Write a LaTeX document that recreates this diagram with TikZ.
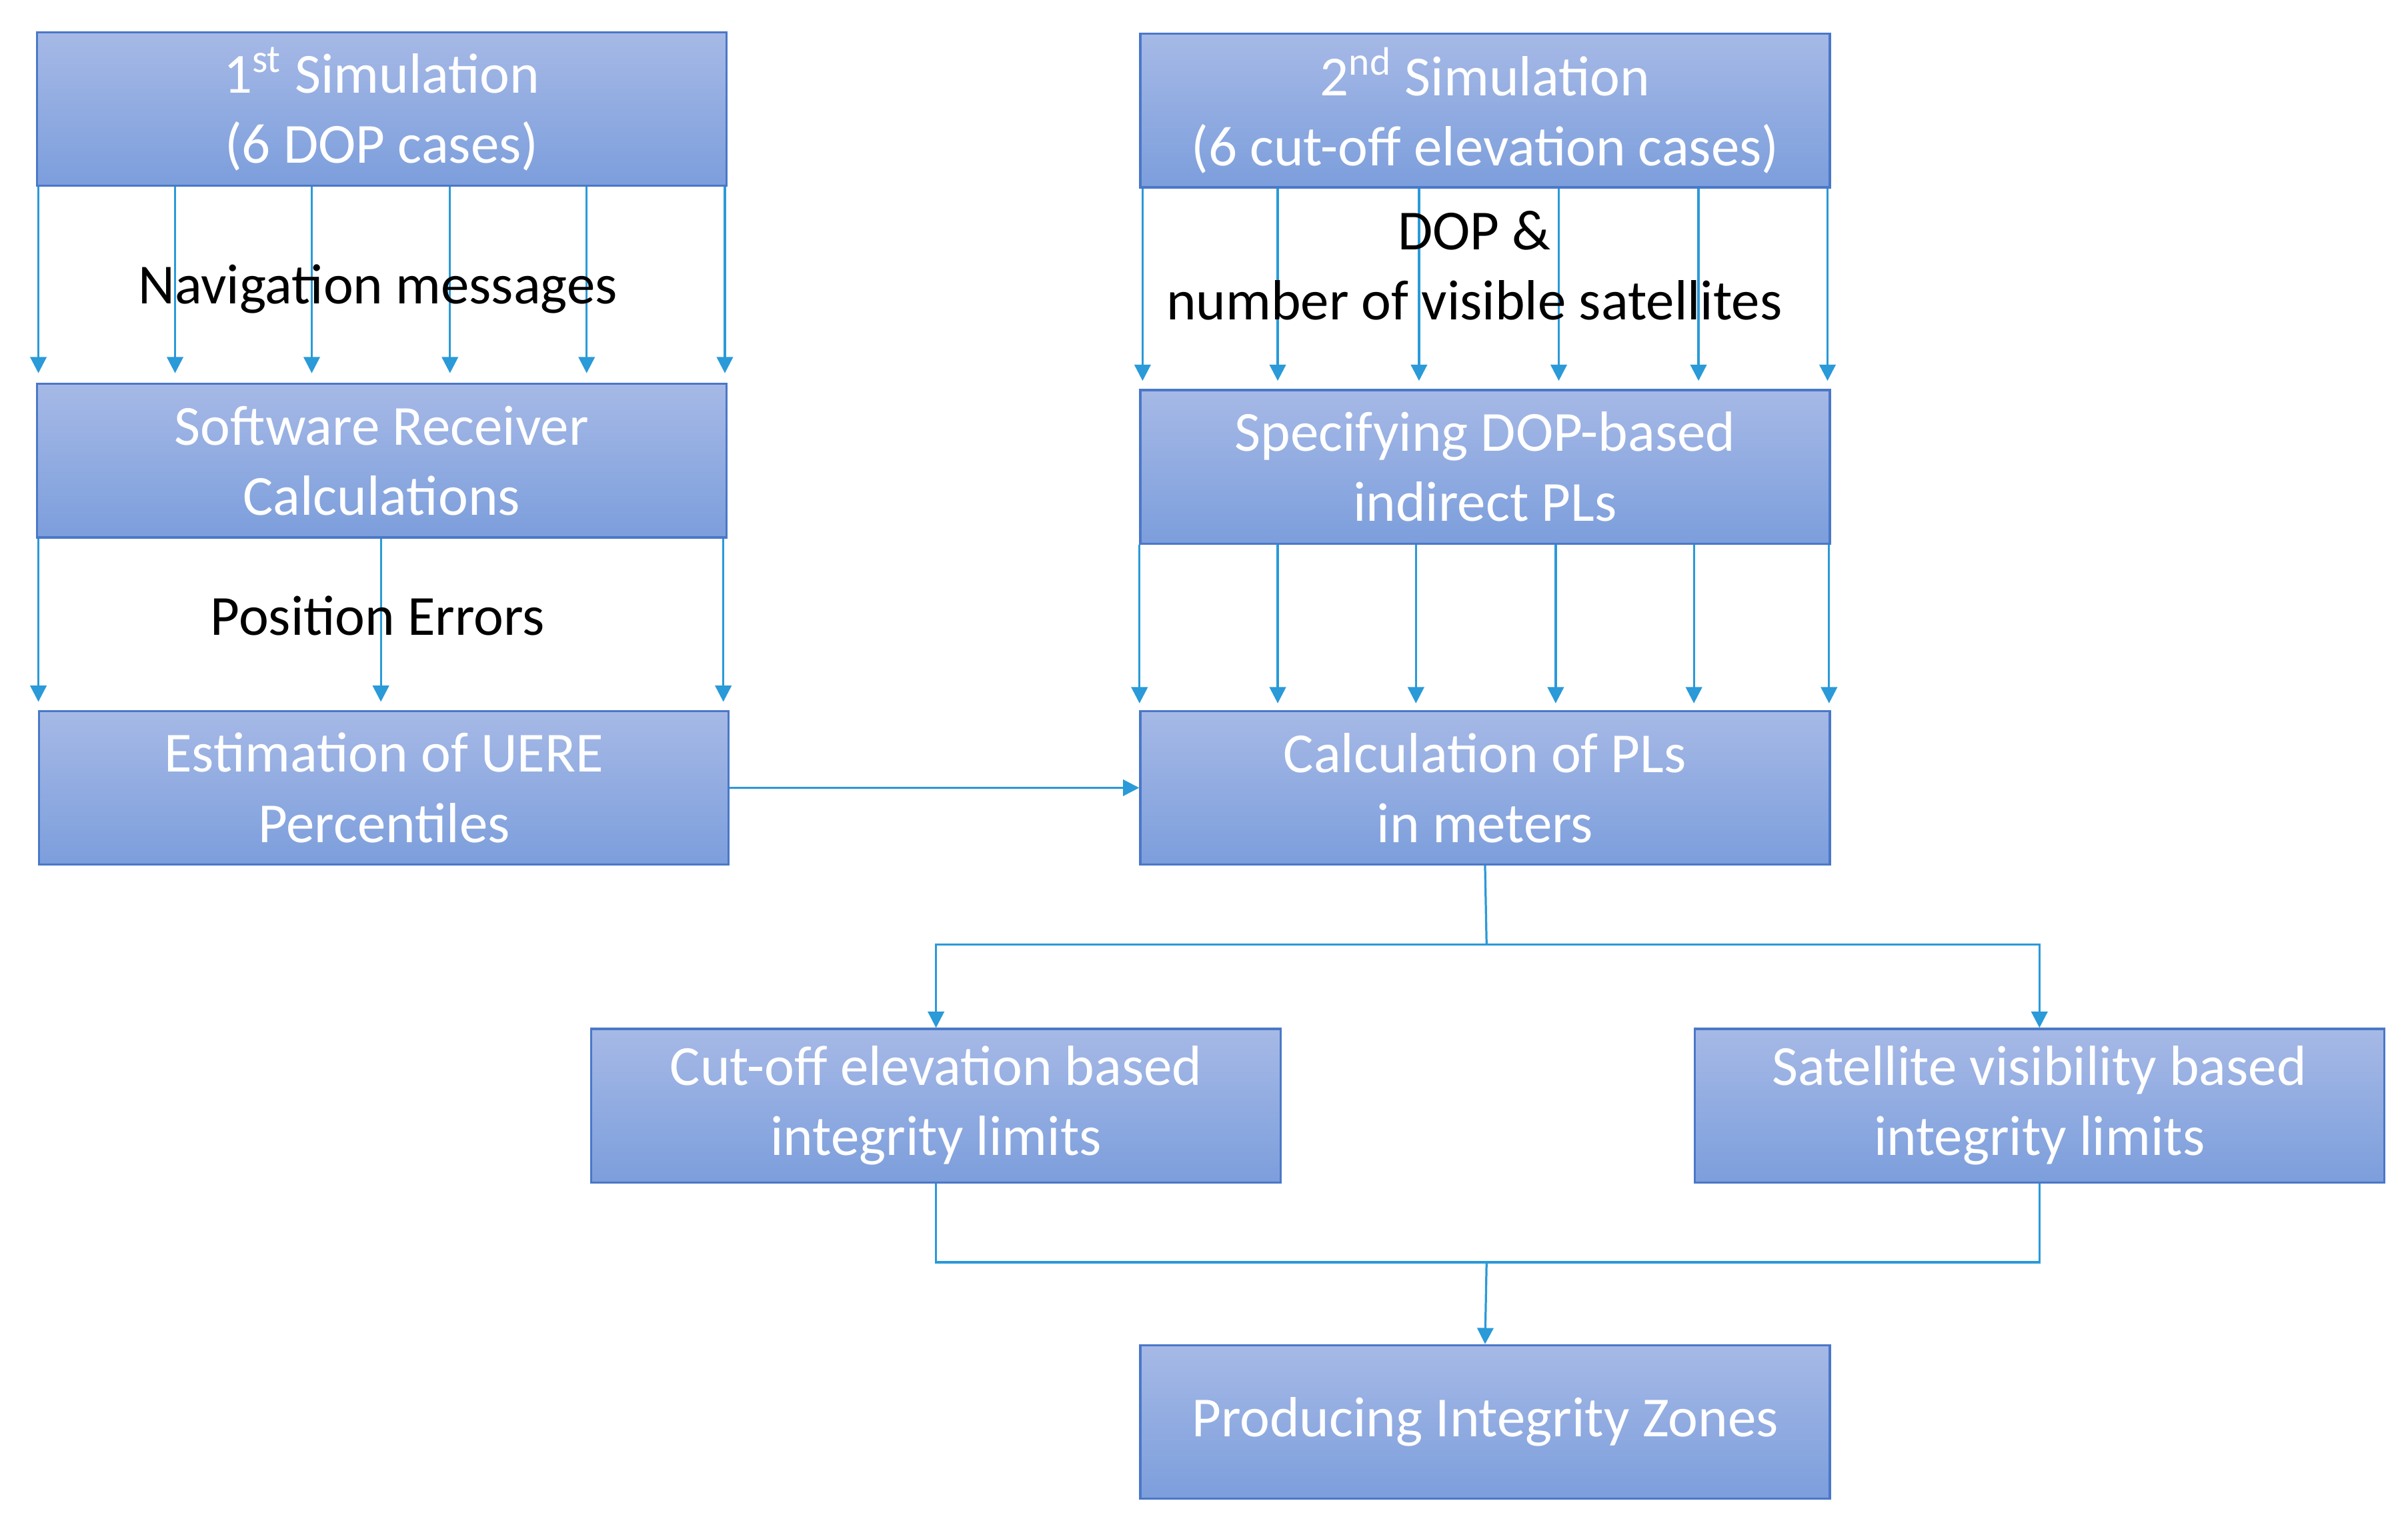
\documentclass[tikz,border=0pt]{standalone}
\usepackage{fontspec}
\setmainfont{Carlito}
\usetikzlibrary{arrows.meta,calc}
\definecolor{bt}{HTML}{A6B9E6}
\definecolor{bb}{HTML}{7C9EDC}
\definecolor{bd}{HTML}{4A78C8}
\definecolor{ln}{HTML}{2A9AD8}
\begin{document}
\begin{tikzpicture}[x=0.02cm,y=-0.02cm,
 box/.style={draw=bd,line width=0.8pt,top color=bt,bottom color=bb,minimum width=449*0.02cm,minimum height=100*0.02cm,text=white,align=center,font=\fontsize{21}{26}\selectfont,inner sep=0pt},
 arr/.style={draw=ln,line width=0.8pt,-{Triangle[length=6pt,width=6pt]}},
 ln/.style={draw=ln,line width=0.8pt},
 lab/.style={font=\fontsize{21}{26}\selectfont,text=black,align=center}]
\useasboundingbox (0,0) rectangle (1568,998);
\node[box] (s1) at (248.5,71) {1\textsuperscript{st} Simulation\\(6 DOP cases)};
\node[box] (sr) at (248.5,300) {Software Receiver\\Calculations};
\node[box] (ue) at (250,513) {Estimation of UERE\\Percentiles};
\node[box] (s2) at (967,72) {2\textsuperscript{nd} Simulation\\(6 cut-off elevation cases)};
\node[box] (dp) at (967,304) {Specifying DOP-based\\indirect PLs};
\node[box] (pl) at (967,513) {Calculation of PLs\\in meters};
\node[box] (cu) at (609.5,720) {Cut-off elevation based\\integrity limits};
\node[box] (sa) at (1328,720) {Satellite visibility based\\integrity limits};
\node[box] (pr) at (967,926) {Producing Integrity Zones};
\foreach \x in {25,114,203,293,382,472} \draw[arr] (\x,0 |- s1.south) -- (\x,243);
\foreach \x in {744,832,924,1015,1106,1190} \draw[arr] (\x,0 |- s2.south) -- (\x,248);
\foreach \x in {25,248,471} \draw[arr] (\x,0 |- sr.south) -- (\x,457);
\foreach \x in {742,832,922,1013,1103,1191} \draw[arr] (\x,0 |- dp.south) -- (\x,458);
\node[lab] (l1) at (246,188) {Navigation messages};
\node[lab] (l2) at (960,173) {DOP \&\\number of visible satellites};
\node[lab] (l3) at (246,401) {Position Errors};
\draw[arr] (ue.east) -- (pl.west);
\coordinate (j1) at (968,615);
\draw[ln] (pl.south) -- (j1);
\draw[arr] (j1) -| (cu.north);
\draw[arr] (j1) -| (sa.north);
\coordinate (j2) at (968,822);
\draw[ln] (cu.south) |- (j2) -| (sa.south);
\draw[arr] (j2) -- (pr.north);
\end{tikzpicture}
\end{document}
